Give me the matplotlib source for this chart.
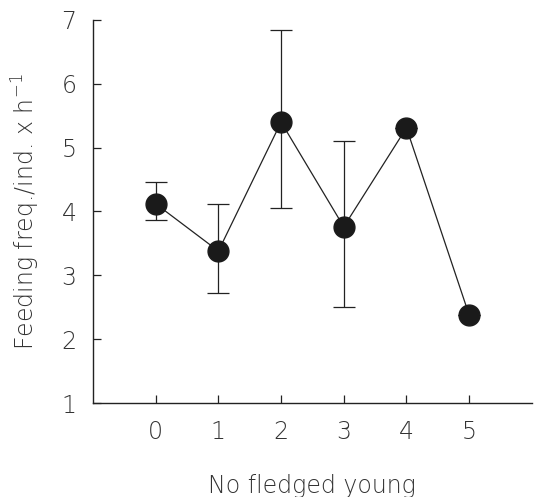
import matplotlib
matplotlib.use("Agg")
import matplotlib.pyplot as plt

young = [0, 1, 2, 3, 4, 5]
feeding = [4.12, 3.38, 5.40, 3.76, 5.31, 2.38]
err_low = [3.87, 2.72, 4.06, 2.50, 5.31, 2.38]
err_high = [4.46, 4.11, 6.84, 5.10, 5.31, 2.38]

lo = [f - l for f, l in zip(feeding, err_low)]
hi = [h - f for f, h in zip(feeding, err_high)]

plt.rcParams['font.family'] = ['DejaVu Sans']
plt.rcParams['mathtext.default'] = 'regular'
fig = plt.figure(figsize=(5.41, 4.97), dpi=100)
ax = fig.add_axes([0.172, 0.189, 0.811, 0.771])

ax.errorbar(young, feeding, yerr=[lo, hi], fmt='none', ecolor='#222222',
            elinewidth=0.9, capsize=8, capthick=0.9)
ax.plot(young, feeding, color='#222222', lw=0.9, marker='o', ms=15,
        mfc='#1a1a1a', mec='#1a1a1a', zorder=3)

ax.set_xlim(-1, 6)
ax.set_ylim(1, 7)
ax.set_xticks(young)
ax.set_yticks(range(1, 8))
for s in ['top', 'right']:
    ax.spines[s].set_visible(False)
for s in ['left', 'bottom']:
    ax.spines[s].set_linewidth(1.0)
    ax.spines[s].set_color('#222222')
ax.tick_params(direction='in', length=6, width=0.9, color='#222222',
               labelsize=17, labelcolor='#333333', pad=12)
for t in ax.get_xticklabels() + ax.get_yticklabels():
    t.set_fontweight('light')

ax.set_xlabel('No fledged young', fontsize=17, color='#333333',
              fontweight='light', labelpad=22)
ax.set_ylabel('Feeding freq./ind. x h$^{-1}$', fontsize=17,
              color='#333333', fontweight='light', labelpad=14)

fig.savefig('out.png', dpi=100)
